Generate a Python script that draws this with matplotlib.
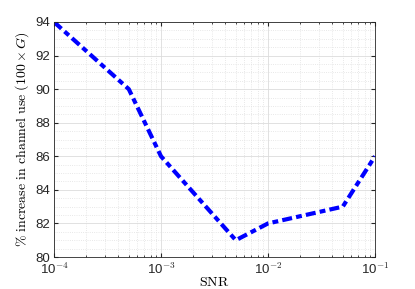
import matplotlib
matplotlib.use('Agg')
import matplotlib.pyplot as plt
from matplotlib.ticker import MultipleLocator, LogLocator, NullFormatter, FuncFormatter
import numpy as np

snr = [1e-4, 5e-4, 1e-3, 5e-3, 1e-2, 5e-2, 1e-1]
increase = [94, 90, 86, 81, 82, 83, 86]

plt.rcParams['mathtext.fontset'] = 'cm'
plt.rcParams['font.family'] = ['Liberation Sans', 'DejaVu Sans']

fig = plt.figure(figsize=(4.15, 2.89), dpi=100)
ax = fig.add_axes([54 / 415, 32 / 289, 321 / 415, 235 / 289])

ax.semilogx(snr, increase, color=(0, 0, 1), linestyle=(0, (2.4, 1, 1.4, 1)),
            linewidth=3, solid_capstyle='butt', dash_capstyle='butt')

ax.set_xlim(1e-4, 1e-1)
ax.set_ylim(80, 94)
ax.yaxis.set_major_locator(MultipleLocator(2))
ax.yaxis.set_minor_locator(MultipleLocator(0.5))
ax.xaxis.set_major_locator(LogLocator(base=10, numticks=10))
ax.xaxis.set_minor_locator(LogLocator(base=10, subs=range(2, 10), numticks=20))
ax.xaxis.set_minor_formatter(NullFormatter())


def pow_label(v, pos):
    e = int(round(np.log10(v)))
    return '10$^{\\mathsf{%d}}$' % e


ax.xaxis.set_major_formatter(FuncFormatter(pow_label))

ax.grid(True, which='major', color='#dcdcdc', linewidth=0.6)
ax.grid(True, which='minor', color='#e0e0e0', linestyle=':', linewidth=0.6)
ax.set_axisbelow(True)

ax.tick_params(which='both', direction='in', top=True, right=True,
               labelsize=9.5, colors='#262626', pad=3)
ax.tick_params(which='major', length=3)
ax.tick_params(axis='x', which='minor', length=1.5)
ax.tick_params(axis='y', which='minor', length=0)
for s in ax.spines.values():
    s.set_color('#262626')
    s.set_linewidth(0.6)

ax.set_xlabel(r'$\mathrm{SNR}$', fontsize=10, labelpad=-1)
ax.set_ylabel(r'$\%\ \mathrm{increase\ in\ channel\ use}\ (100 \times G)$',
              fontsize=10, labelpad=3)

fig.savefig('out.png', dpi=100)
